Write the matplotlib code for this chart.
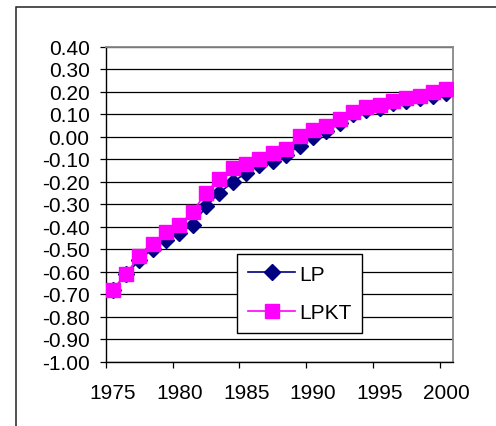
import matplotlib
matplotlib.use('Agg')
import matplotlib.pyplot as plt
from matplotlib.patches import Rectangle
from matplotlib.ticker import FixedLocator, NullFormatter, FixedFormatter

plt.rcParams['font.family'] = ['Liberation Sans', 'DejaVu Sans']

# данные
years = list(range(1975, 2001))
lp = [-0.683, -0.613, -0.550, -0.498, -0.461, -0.429, -0.392, -0.311, -0.249, -0.204,
      -0.160, -0.126, -0.110, -0.082, -0.040, -0.002, 0.024, 0.058, 0.098, 0.120,
      0.128, 0.147, 0.158, 0.170, 0.181, 0.193]
lpkt = [-0.681, -0.611, -0.531, -0.477, -0.426, -0.393, -0.334, -0.249, -0.187, -0.142,
        -0.123, -0.098, -0.072, -0.056, 0.003, 0.028, 0.047, 0.080, 0.107, 0.129,
        0.139, 0.159, 0.169, 0.181, 0.196, 0.213]
y_ticks = [0.4, 0.3, 0.2, 0.1, 0.0, -0.1, -0.2, -0.3, -0.4, -0.5, -0.6, -0.7, -0.8, -0.9, -1.0]
x_labels = ['1975', '1980', '1985', '1990', '1995', '2000']

W, H = 496, 427
fs = 15
fig = plt.figure(figsize=(W / 100, H / 100), dpi=100)

# рамка всей диаграммы (правая и нижняя стороны за пределами картинки)
fig.patches.append(Rectangle((16 / W, -0.1), 1.2, 1 - 7.5 / H + 0.1, transform=fig.transFigure,
                             fill=False, edgecolor='#222222', linewidth=1.1))

ax = fig.add_axes([106 / W, 1 - 362.5 / H, 347 / W, 315 / H])

# категории: точки в центре ячейки
pos = [i + 0.5 for i in range(len(years))]
ax.plot(pos, lp, color='#000080', linewidth=1.2, marker='D', markersize=8.5,
        markerfacecolor='#000080', markeredgecolor='#000080', label='LP', zorder=3)
ax.plot(pos, lpkt, color='#FF00FF', linewidth=1.2, marker='s', markersize=9.5,
        markerfacecolor='#FF00FF', markeredgecolor='#FF00FF', label='LPKT', zorder=4)

ax.set_xlim(0, len(years))
ax.set_ylim(-1.0, 0.4)

ax.set_yticks(y_ticks)
ax.set_yticklabels(['%.2f' % v for v in y_ticks])
ax.yaxis.grid(True, color='black', linewidth=0.9)
ax.set_axisbelow(True)

major = [i for i in range(0, len(years), 5)]
ax.xaxis.set_major_locator(FixedLocator(major))
ax.xaxis.set_major_formatter(NullFormatter())
ax.xaxis.set_minor_locator(FixedLocator([m + 0.5 for m in major]))
ax.xaxis.set_minor_formatter(FixedFormatter(x_labels))

ax.tick_params(axis='y', which='major', length=4.3, width=0.9, pad=7.5, labelsize=fs, color='black')
ax.tick_params(axis='x', which='major', length=4.3, width=0.9, color='black')
ax.tick_params(axis='x', which='minor', length=0, pad=15.5, labelsize=fs)

for side in ['left', 'bottom']:
    ax.spines[side].set_color('black')
    ax.spines[side].set_linewidth(1.0)
for side in ['top', 'right']:
    ax.spines[side].set_color('#888888')
    ax.spines[side].set_linewidth(1.3)

leg = ax.legend(loc='upper left', bbox_to_anchor=(0.378, 0.341), borderaxespad=0,
                fontsize=fs, frameon=True, fancybox=False, handlelength=2.3,
                handletextpad=0.2, borderpad=0.5, labelspacing=0.95)
leg.get_frame().set_edgecolor('black')
leg.get_frame().set_linewidth(1.0)
leg.get_frame().set_alpha(1)

fig.savefig('out.png', dpi=100)
